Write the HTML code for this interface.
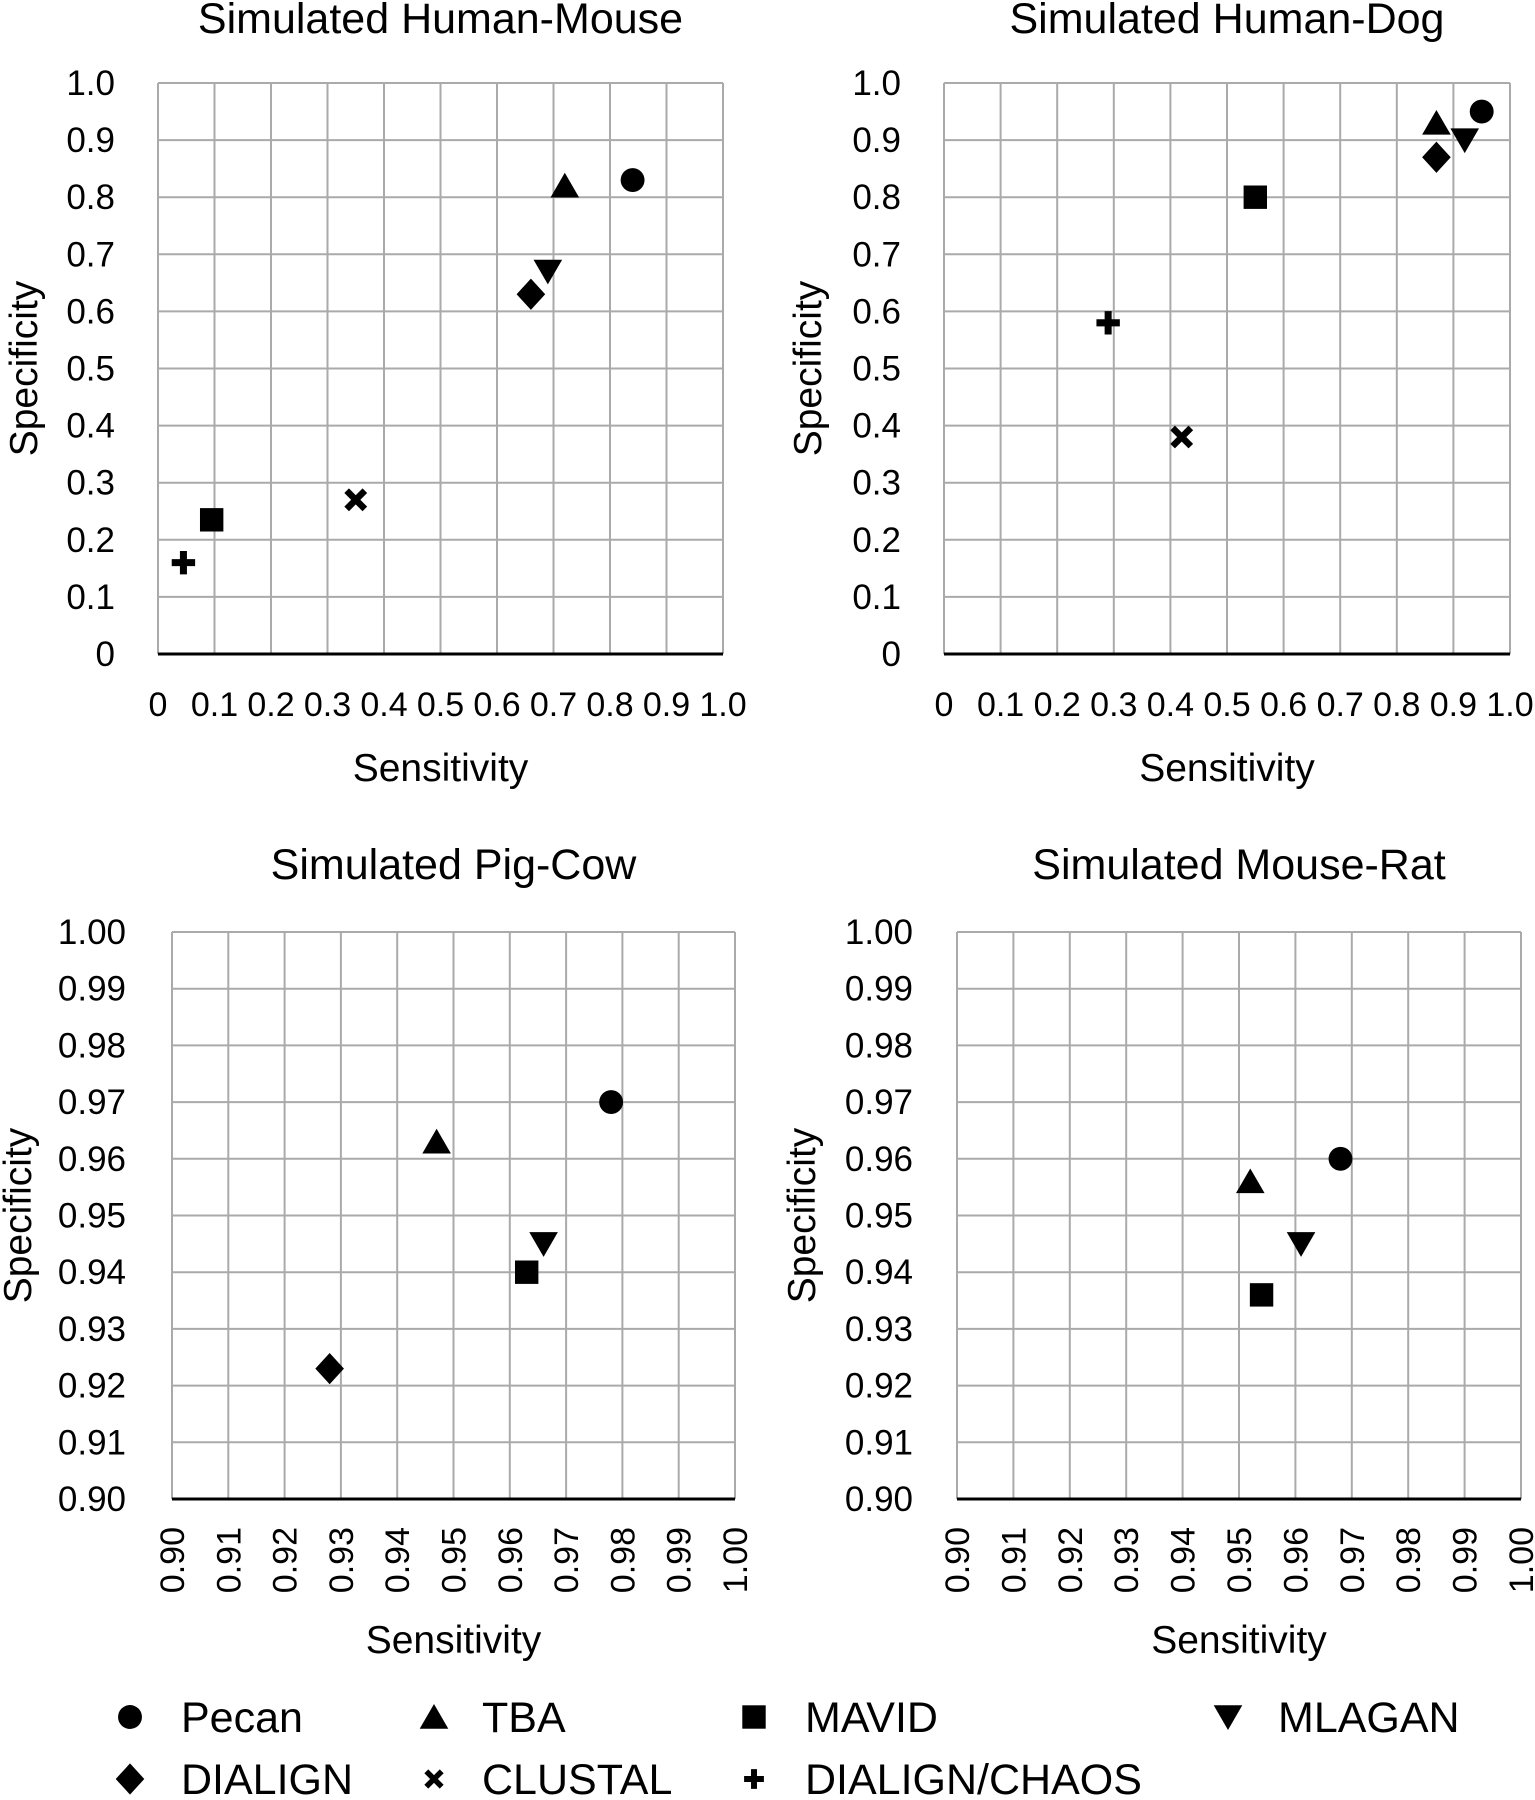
<!DOCTYPE html>
<html><head><meta charset="utf-8"><style>
html,body{margin:0;padding:0;background:#fff}
svg{display:block;font-family:"Liberation Sans",Arial,sans-serif}
</style></head><body>
<svg id="fig" width="1535" height="1800" viewBox="0 0 1535 1800" xmlns="http://www.w3.org/2000/svg"></svg>
<script>
const methods = ["Pecan","TBA","MAVID","MLAGAN","DIALIGN","CLUSTAL","DIALIGN/CHAOS"];
const hmX = [0.84,0.72,0.095,0.69,0.66,0.35,0.045];
const hmY = [0.83,0.82,0.235,0.67,0.63,0.27,0.16];
const hdX = [0.95,0.87,0.55,0.92,0.87,0.42,0.29];
const hdY = [0.95,0.93,0.80,0.90,0.87,0.38,0.58];
const pcX = [0.978,0.947,0.963,0.966,0.928,null,null];
const pcY = [0.970,0.963,0.940,0.945,0.923,null,null];
const mrX = [0.968,0.952,0.954,0.961,null,null,null];
const mrY = [0.960,0.956,0.936,0.945,null,null,null];
const ticks1 = ["0","0.1","0.2","0.3","0.4","0.5","0.6","0.7","0.8","0.9","1.0"];
const ticks2 = ["0.90","0.91","0.92","0.93","0.94","0.95","0.96","0.97","0.98","0.99","1.00"];

const NS="http://www.w3.org/2000/svg";
const svg=document.getElementById('fig');
function mk(tag,attrs,parent){const e=document.createElementNS(NS,tag);for(const k in attrs)e.setAttribute(k,attrs[k]);(parent||svg).appendChild(e);return e;}
function marker(g,kind,cx,cy,s){
  let e;
  if(kind===0){e=mk('circle',{cx:cx,cy:cy,r:s*0.46,fill:'#000'},g);}
  else if(kind===1){e=mk('polygon',{points:`${cx},${cy-s*0.5} ${cx+s*0.55},${cy+s*0.45} ${cx-s*0.55},${cy+s*0.45}`,fill:'#000'},g);}
  else if(kind===2){e=mk('rect',{x:cx-s*0.45,y:cy-s*0.45,width:s*0.9,height:s*0.9,fill:'#000'},g);}
  else if(kind===3){e=mk('polygon',{points:`${cx-s*0.55},${cy-s*0.45} ${cx+s*0.55},${cy-s*0.45} ${cx},${cy+s*0.5}`,fill:'#000'},g);}
  else if(kind===4){e=mk('polygon',{points:`${cx},${cy-s*0.6} ${cx+s*0.55},${cy} ${cx},${cy+s*0.6} ${cx-s*0.55},${cy}`,fill:'#000'},g);}
  else if(kind===5){e=mk('path',{d:`M${cx-s*0.35},${cy-s*0.35}L${cx+s*0.35},${cy+s*0.35}M${cx+s*0.35},${cy-s*0.35}L${cx-s*0.35},${cy+s*0.35}`,stroke:'#000','stroke-width':s*0.25,fill:'none'},g);}
  else {e=mk('path',{d:`M${cx-s*0.45},${cy}L${cx+s*0.45},${cy}M${cx},${cy-s*0.45}L${cx},${cy+s*0.45}`,stroke:'#000','stroke-width':s*0.27,fill:'none'},g);}
  return e;
}
function chart(o){
  const g=mk('g',{});
  
  
  const {L,R,T,B,min,max,ticks,xs,ys}=o;
  const sx=v=>L+(v-min)/(max-min)*(R-L);
  const sy=v=>B-(v-min)/(max-min)*(B-T);
  const t=mk('text',{x:(L+R)/2,y:o.titleY,'text-anchor':'middle','font-size':43,fill:'#000'},g);t.textContent=o.title;
  
  for(let i=0;i<ticks.length;i++){
    const v=min+(max-min)*i/(ticks.length-1);
    const x=sx(v),y=sy(v);
    if(i>0) mk('line',{x1:L,x2:R,y1:y,y2:y,stroke:'#aaa','stroke-width':2},g);
    mk('line',{x1:x,x2:x,y1:T,y2:B,stroke:'#aaa','stroke-width':2},g);
    const yl=mk('text',{x:o.ylabR,y:y+12,'text-anchor':'end','font-size':35},g);yl.textContent=ticks[i];
    
    let xl;
    if(o.rot){xl=mk('text',{x:0,y:0,'text-anchor':'end','font-size':34,transform:`translate(${x+12},${B+28}) rotate(-90)`},g);}
    else{xl=mk('text',{x:x,y:B+62,'text-anchor':'middle','font-size':34},g);}
    xl.textContent=ticks[i];
    
  }
  mk('line',{x1:L,x2:R,y1:B,y2:B,stroke:'#000','stroke-width':3},g);
  const xt=mk('text',{x:(L+R)/2,y:o.xtY,'text-anchor':'middle','font-size':39},g);xt.textContent='Sensitivity';
  
  const yt=mk('text',{x:0,y:0,'text-anchor':'middle','font-size':39,transform:`translate(${o.ytX},${(T+B)/2}) rotate(-90)`},g);yt.textContent='Specificity';
  
  for(let i=0;i<methods.length;i++){
    if(xs[i]==null) continue;
    const m=marker(g,i,sx(xs[i]),sy(ys[i]),26);
    
    
  }
}
chart({name:'chart-human-mouse',title:'Simulated Human-Mouse',L:158,R:723,T:83,B:654,min:0,max:1,ticks:ticks1,xs:hmX,ys:hmY,titleY:33,ylabR:115,xtY:781,ytX:37,rot:false});
chart({name:'chart-human-dog',title:'Simulated Human-Dog',L:944,R:1510,T:83,B:654,min:0,max:1,ticks:ticks1,xs:hdX,ys:hdY,titleY:33,ylabR:901,xtY:781,ytX:821,rot:false});
chart({name:'chart-pig-cow',title:'Simulated Pig-Cow',L:172,R:735,T:932,B:1499,min:0.9,max:1,ticks:ticks2,xs:pcX,ys:pcY,titleY:879,ylabR:126,xtY:1653,ytX:31,rot:true});
chart({name:'chart-mouse-rat',title:'Simulated Mouse-Rat',L:957,R:1521,T:932,B:1499,min:0.9,max:1,ticks:ticks2,xs:mrX,ys:mrY,titleY:879,ylabR:913,xtY:1653,ytX:815,rot:true});
const legPos=[[130,1717],[434,1717],[754,1717],[1228,1717],[130,1779],[434,1779],[754,1779]];
const legTx=[181,482,805,1278,181,482,805];
const lg=mk('g',{});


for(let i=0;i<methods.length;i++){
  const m=marker(lg,i,legPos[i][0],legPos[i][1],i>=5?22:26);
  
  
  const t=mk('text',{x:legTx[i],y:legPos[i][1]+15,'font-size':43},lg);t.textContent=methods[i];
  
  
}
</script>
</body></html>
